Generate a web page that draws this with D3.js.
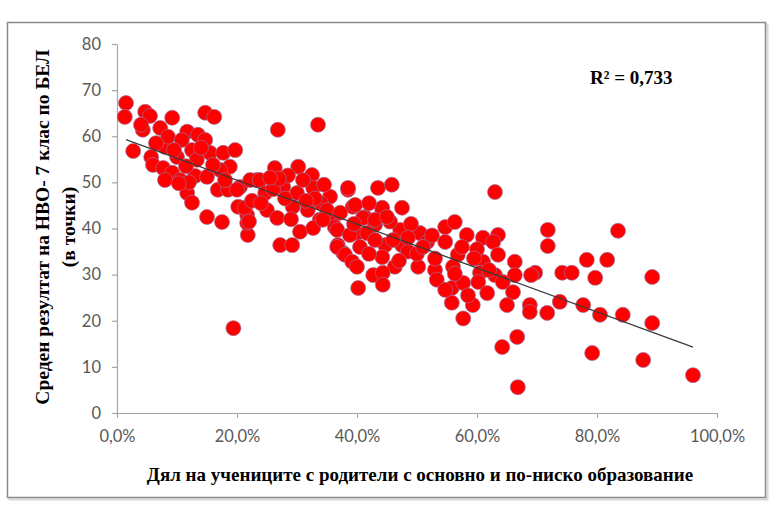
<!DOCTYPE html>
<html>
<head>
<meta charset="utf-8">
<script src="https://cdn.jsdelivr.net/npm/d3@7"></script>
<style>
  body { margin: 0; background: #fff; }
</style>
</head>
<body>
<div id="chart-area"></div>
<script>
// Дял на учениците (в %) и среден резултат (точки) - прочетени от графиката
const share = [
  1.5, 1.3, 2.7, 4.7, 5.5, 4.3, 4.0, 7.2, 9.2, 5.7, 6.0, 8.0, 8.5, 7.7, 9.2, 10.5, 11.7, 10.8, 12.5, 13.5,
  14.7, 14.7, 16.2, 13.3, 15.5, 13.0, 15.0, 11.7, 12.5, 15.0, 17.5, 16.8, 18.5, 17.7, 19.7, 18.8, 17.2, 20.5, 20.2, 21.7,
  21.8, 23.3, 19.4, 6.5, 10.0, 11.5, 9.5, 12.0, 14.0, 16.0, 18.0, 8.0, 10.3, 22.2, 20.0, 21.3, 21.7,
  26.8, 33.5, 23.8, 26.3, 30.2, 32.5, 27.7, 30.0, 32.7, 35.5, 38.5, 24.7, 25.0, 26.7, 29.3, 31.8, 33.8, 30.5,
  32.7, 27.2, 29.2, 22.0, 22.5, 36.0, 36.3, 36.8, 37.7, 39.3, 40.0, 41.3, 43.0, 43.5, 44.2, 45.8, 44.7,
  28.5, 31.0, 34.0, 28.0, 24.0, 26.0, 29.0, 34.5, 27.0, 33.0, 35.0, 31.5, 25.5,
  38.5, 39.7, 44.2, 47.5, 34.3, 37.2, 41.0, 43.0, 36.7, 38.8, 41.7, 47.2, 50.5, 54.7, 56.3, 58.3, 36.7, 40.5,
  47.5, 51.7, 54.7, 56.8, 38.0, 39.2, 44.2, 40.0, 46.3, 50.2, 53.0, 56.0, 42.7, 44.3, 44.3, 40.2, 53.3, 55.8,
  57.7, 55.8, 57.7, 42.0, 45.5, 49.0, 52.5, 48.5, 46.0, 42.0, 50.0, 53.0, 47.0, 45.0, 43.0, 39.5, 51.0, 48.5,
  63.0, 71.8, 71.8, 61.0, 63.5, 62.7, 63.5, 61.0, 66.3, 78.3, 56.3, 60.5, 66.3, 63.0, 64.3, 69.7, 69.0, 74.2,
  75.8, 60.2, 61.7, 66.0, 59.3, 65.0, 68.8, 68.8, 71.7, 73.8, 77.7, 54.7, 79.7, 81.7, 80.5, 84.3, 83.5, 89.2,
  89.2, 64.2, 66.7, 66.8, 79.2, 87.7, 96.0, 60.0, 57.5, 59.5, 62.0, 58.5
];
const score = [
  67.2, 64.2, 56.8, 65.3, 64.4, 61.4, 62.5, 61.8, 64.0, 55.5, 53.8, 57.7, 59.9, 53.1, 52.1, 50.5, 61.0, 59.2, 57.0, 60.3,
  59.2, 65.1, 64.2, 54.9, 56.4, 51.4, 51.2, 47.7, 45.6, 42.5, 41.4, 48.4, 48.4, 56.4, 57.0, 53.4, 52.7, 49.0, 44.7, 42.9,
  38.6, 50.5, 18.4, 58.5, 55.5, 53.5, 57.0, 50.0, 57.5, 53.8, 50.5, 50.5, 49.8, 50.5, 48.4, 44.5, 41.2,
  61.4, 62.5, 50.5, 53.1, 53.4, 51.6, 49.0, 47.7, 48.8, 46.9, 48.4, 47.7, 44.0, 42.3, 44.7, 44.0, 41.9, 39.3,
  40.1, 36.4, 36.4, 41.5, 46.0, 42.5, 40.3, 36.4, 34.7, 44.7, 39.0, 42.5, 40.8, 48.8, 44.0, 49.5, 36.4,
  51.5, 50.5, 45.5, 46.5, 45.5, 48.5, 42.0, 49.5, 50.8, 46.5, 44.0, 46.0, 51.0,
  48.8, 45.1, 44.5, 44.5, 41.9, 43.4, 42.3, 41.9, 39.7, 38.6, 39.0, 39.7, 39.0, 40.3, 41.4, 38.6, 36.0, 36.0,
  36.4, 37.1, 37.1, 34.3, 34.3, 32.8, 33.8, 31.7, 31.7, 31.7, 31.0, 31.7, 29.9, 30.4, 27.8, 27.1, 28.9, 27.1,
  28.2, 23.9, 20.5, 45.5, 41.5, 41.0, 38.5, 35.0, 37.5, 34.5, 34.5, 33.5, 33.0, 42.5, 37.5, 41.0, 36.0, 38.0,
  47.9, 39.7, 36.2, 38.0, 38.6, 37.1, 34.3, 32.8, 32.8, 33.2, 30.2, 30.4, 29.9, 29.9, 28.4, 30.4, 29.9, 30.4,
  30.4, 28.4, 26.0, 26.2, 23.4, 23.4, 23.4, 21.9, 21.7, 24.1, 23.4, 26.7, 29.3, 33.2, 21.3, 21.3, 39.5, 29.5,
  19.5, 14.3, 16.5, 5.6, 13.0, 11.5, 8.2, 35.5, 36.0, 33.5, 31.0, 25.5
];

const yTicks = [0, 10, 20, 30, 40, 50, 60, 70, 80];
const xTicks = [0, 0.2, 0.4, 0.6, 0.8, 1.0];

// Линия на тренда (линейна), прочетена от графиката
const trendX = [0.015, 0.96];
const trendIntercept = 60.0;
const trendSlope = -47.6;
const r2Label = "R² = 0,733";

const xTitle = "Дял на учениците с родители с основно и по-ниско образование";
const yTitle = ["Среден резултат на НВО- 7 клас по БЕЛ", "(в точки)"];

const data = share.map((s, i) => ({ x: s / 100, y: score[i] }));

const svg = d3.select("#chart-area")
  .append("svg")
  .attr("width", 780)
  .attr("height", 520);

// Рамка
svg.append("rect")
  .attr("x", 9.5).attr("y", 24.5)
  .attr("width", 758).attr("height", 475)
  .attr("fill", "none")
  .attr("stroke", "#d8d8d8")
  .attr("stroke-width", 2);
svg.append("rect")
  .attr("x", 7.5).attr("y", 22.5)
  .attr("width", 758).attr("height", 475)
  .attr("fill", "#fff")
  .attr("stroke", "#8a8a8a")
  .attr("stroke-width", 1.5);

// Скали
const x = d3.scaleLinear().domain([0, 1]).range([117, 717]);
const y = d3.scaleLinear().domain([0, 80]).range([413, 44]);

const fmt = d => d3.format(".1%")(d).replace(".", ",");

const xAxis = svg.append("g")
  .attr("transform", "translate(0,413)")
  .call(d3.axisBottom(x).tickValues(xTicks).tickFormat(fmt).tickSize(5).tickSizeOuter(0).tickPadding(12));

const yAxis = svg.append("g")
  .attr("transform", "translate(117,0)")
  .call(d3.axisLeft(y).tickValues(yTicks).tickSize(5).tickSizeOuter(0).tickPadding(11));

[xAxis, yAxis].forEach(g => {
  g.select(".domain").attr("stroke", "#a6a6a6").attr("stroke-width", 1.2);
  g.selectAll(".tick line").attr("stroke", "#a6a6a6").attr("stroke-width", 1.2);
  g.selectAll(".tick text")
    .attr("fill", "#595959")
    .style("font-family", "Lato, 'Open Sans', sans-serif")
    .style("font-size", "16.5px");
});

// Точки
svg.append("g")
  .selectAll("circle")
  .data(data)
  .enter()
  .append("circle")
  .attr("cx", d => x(d.x))
  .attr("cy", d => y(d.y))
  .attr("r", 7.5)
  .attr("fill", "#ff0000")
  .attr("stroke", "#9a6f9a")
  .attr("stroke-width", 0.7);

// Тренд
svg.append("line")
  .attr("x1", x(trendX[0]))
  .attr("y1", y(trendIntercept + trendSlope * trendX[0]))
  .attr("x2", x(trendX[1]))
  .attr("y2", y(trendIntercept + trendSlope * trendX[1]))
  .attr("stroke", "#3a3a3a")
  .attr("stroke-width", 1.3);

// Текстове
const serif = "'Liberation Serif', 'DejaVu Serif', serif";

svg.append("text")
  .attr("x", 590).attr("y", 84)
  .style("font-family", serif)
  .style("font-weight", "bold")
  .style("font-size", "19px")
  .text(r2Label);

svg.append("text")
  .attr("x", 420).attr("y", 481)
  .attr("text-anchor", "middle")
  .style("font-family", serif)
  .style("font-weight", "bold")
  .style("font-size", "19px")
  .text(xTitle);

svg.append("text")
  .attr("transform", "translate(49,227) rotate(-90)")
  .attr("text-anchor", "middle")
  .style("font-family", serif)
  .style("font-weight", "bold")
  .style("font-size", "19.5px")
  .text(yTitle[0]);

svg.append("text")
  .attr("transform", "translate(75,227) rotate(-90)")
  .attr("text-anchor", "middle")
  .style("font-family", serif)
  .style("font-weight", "bold")
  .style("font-size", "19.5px")
  .text(yTitle[1]);
</script>
</body>
</html>
